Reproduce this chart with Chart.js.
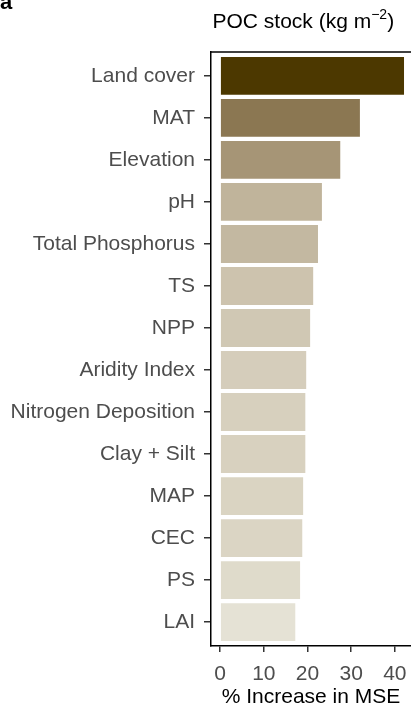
<!DOCTYPE html>
<html>
<head>
<meta charset="utf-8">
<script src="https://cdn.jsdelivr.net/npm/chart.js@4"></script>
<style>
  html, body { margin: 0; padding: 0; background: #fff; }
  #wrap { width: 411px; height: 708px; position: relative; }
</style>
</head>
<body>
<div id="wrap"><canvas id="chart"></canvas></div>
<script>
// variable importance for POC stock, top to bottom
const predictors = ['Land cover', 'MAT', 'Elevation', 'pH', 'Total Phosphorus', 'TS', 'NPP',
    'Aridity Index', 'Nitrogen Deposition', 'Clay + Silt', 'MAP', 'CEC', 'PS', 'LAI'];
const incMSE = [42.1, 32.0, 27.5, 23.3, 22.4, 21.3, 20.6, 19.7, 19.5, 19.5, 19.0, 18.8, 18.3, 17.2];
const xTicks = [0, 10, 20, 30, 40];
const barColors = ['#4c3800', '#8b7752', '#a69576', '#c0b49b', '#c3b8a1', '#cdc3ae', '#d0c8b4',
    '#d5cdbb', '#d7d0be', '#d8d1bf', '#dad4c2', '#dbd5c4', '#dfdbcb', '#e5e2d5'];

const FONT = "'Liberation Sans', Arial, sans-serif";
const FS = 21;

// panel label, title with superscript, and top frame line
const decorations = {
    id: 'decorations',
    afterDraw(chart) {
        const ctx = chart.ctx;
        const area = chart.chartArea;
        ctx.save();
        ctx.strokeStyle = '#000';
        ctx.lineWidth = 1.5;
        ctx.beginPath();
        ctx.moveTo(area.left, area.top);
        ctx.lineTo(area.right, area.top);
        ctx.stroke();

        ctx.fillStyle = '#000';
        ctx.textBaseline = 'alphabetic';
        ctx.font = 'bold 22px ' + FONT;
        ctx.textAlign = 'left';
        ctx.fillText('a', 0, 9);

        // title: POC stock (kg m^-2)
        const main = 'POC stock (kg m';
        const sup = '\u22122';
        const tail = ')';
        let x = area.left + 1.5;
        const base = 28;
        ctx.font = FS + 'px ' + FONT;
        ctx.fillText(main, x, base);
        x += ctx.measureText(main).width;
        ctx.font = '14px ' + FONT;
        ctx.fillText(sup, x, base - 9);
        x += ctx.measureText(sup).width;
        ctx.font = FS + 'px ' + FONT;
        ctx.fillText(tail, x, base);
        ctx.restore();
    }
};

const ctx = document.getElementById('chart').getContext('2d');
new Chart(ctx, {
    type: 'bar',
    data: {
        datasets: [{
            data: incMSE.map((v, i) => ({ x: v, y: i })),
            backgroundColor: barColors,
            borderWidth: 0,
            barPercentage: 0.9,
            categoryPercentage: 1
        }]
    },
    options: {
        indexAxis: 'y',
        responsive: true,
        maintainAspectRatio: false,
        animation: false,
        layout: { padding: { top: 52, right: 0, left: 0, bottom: 0 } },
        plugins: {
            legend: { display: false },
            tooltip: { enabled: false },
            title: { display: false }
        },
        scales: {
            x: {
                type: 'linear',
                min: -2.1,
                max: 43.7,
                afterBuildTicks: (scale) => { scale.ticks = xTicks.map(v => ({ value: v })); },
                afterFit: (scale) => {
                    scale.height = 62;
                    scale.paddingLeft = 0;
                    scale.paddingRight = 0;
                },
                border: { display: true, color: '#000', width: 1.5 },
                grid: { drawOnChartArea: false, drawTicks: true, tickLength: 6, color: '#333', lineWidth: 1.5 },
                ticks: { color: '#4d4d4d', font: { family: FONT, size: FS }, padding: 10, maxRotation: 0 },
                title: { display: true, text: '% Increase in MSE', color: '#000', font: { family: FONT, size: FS, lineHeight: 1.0 }, padding: { top: 0, bottom: 0 } }
            },
            y: {
                type: 'linear',
                reverse: true,
                offset: false,
                min: -0.57,
                max: predictors.length - 1 + 0.57,
                afterBuildTicks: (scale) => { scale.ticks = predictors.map((_, i) => ({ value: i })); },
                afterFit: (scale) => { scale.width = 211; },
                border: { display: true, color: '#000', width: 1.5 },
                grid: { offset: false, drawOnChartArea: false, drawTicks: true, tickLength: 7, color: '#333', lineWidth: 1.5 },
                ticks: {
                    color: '#4d4d4d',
                    font: { family: FONT, size: FS },
                    padding: 9,
                    autoSkip: false,
                    callback: (v) => predictors[v]
                }
            }
        }
    },
    plugins: [decorations]
});
</script>
</body>
</html>
